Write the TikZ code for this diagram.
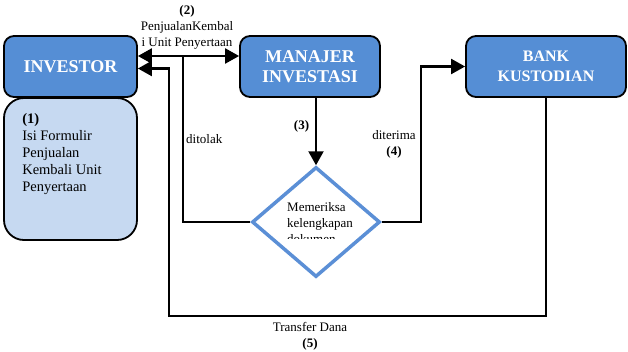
\documentclass[tikz,border=0pt]{standalone}
\usepackage{fontspec}
\setmainfont{Liberation Serif}
\usetikzlibrary{arrows.meta,shapes.geometric}
\definecolor{boxDark}{HTML}{558ED5}
\definecolor{boxLight}{HTML}{C6D9F1}
\definecolor{lineBlue}{HTML}{5B8FD6}
\tikzset{
    darkbox/.style={draw=black, line width=1.8pt, fill=boxDark, rounded corners=10pt, inner sep=0pt,
        minimum height=61pt, align=center, text=white, font=\fontsize{18}{20}\selectfont\bfseries},
    lightbox/.style={draw=black, line width=1.8pt, fill=boxLight, rounded corners=20pt, inner sep=0pt},
    checkdiamond/.style={diamond, draw=lineBlue, line width=3.5pt, fill=white, inner sep=0pt,
        minimum width=128pt, minimum height=110pt},
    arr/.style={line width=2.2pt, -{Triangle[length=14pt,width=15pt]}},
    conn/.style={line width=2.2pt},
    lbl/.style={font=\fontsize{13}{16}\selectfont, align=center, inner sep=0pt}
}

\begin{document}
\begin{tikzpicture}[x=1pt, y=-1pt]
    \useasboundingbox (0,0) rectangle (628,351);

    \node[darkbox, minimum width=133pt] (investor) at (70.5,66.5) {INVESTOR};
    \node[lightbox, minimum width=133pt, minimum height=142pt] (formulir) at (70.5,169) {};
    \node[anchor=north west, align=left, inner sep=0pt, font=\fontsize{14.5}{17}\selectfont]
        (formulirtext) at ([xshift=19pt,yshift=-16pt]formulir.north west)
        {\textbf{(1)}\\Isi Formulir\\Penjualan\\Kembali Unit\\Penyertaan};
    \node[darkbox, minimum width=140pt] (manajer) at (310,66.5) {MANAJER\\INVESTASI};
    \node[darkbox, minimum width=160pt, font=\fontsize{16}{20}\selectfont\bfseries] (bank) at (546,66.5) {BANK\\KUSTODIAN};
    \node[checkdiamond] (periksa) at (316,222) {};
    \begin{scope}
        \clip (240,190) rectangle (400,238);
        \node[anchor=north west, align=left, inner sep=0pt, font=\fontsize{13}{16}\selectfont]
            (periksatext) at (287,202) {Memeriksa\\kelengkapan\\dokumen};
    \end{scope}

    % (2) jual kembali
    \draw[conn, {Triangle[length=14pt,width=15pt]}-{Triangle[length=14pt,width=15pt]}]
        ([yshift=10.5pt]investor.east) -- ([yshift=10.5pt]manajer.west);
    \coordinate (tolak) at (183,56);
    \draw[conn] (periksa.west) -| (tolak);

    % (3) periksa
    \draw[arr] (manajer.south -| periksa.north) -- (periksa.north);

    % (4) diterima
    \draw[arr] (periksa.east) -| ([xshift=-44pt]bank.west) -- (bank.west);

    % (5) transfer dana
    \coordinate (transfer) at (169,316);
    \draw[arr] (bank.south) |- (transfer) |- ([yshift=-2pt]investor.east);

    \node[lbl] (lbl2) at (187,27) {\textbf{(2)}\\PenjualanKembal\\i Unit Penyertaan};
    \node[lbl, anchor=west] (lblTolak) at (186,139) {ditolak};
    \node[lbl, font=\fontsize{13}{16}\selectfont\bfseries] (lbl3) at (301.5,126) {(3)};
    \node[lbl] (lblTerima) at (394,144) {diterima\\\textbf{(4)}};
    \node[lbl] (lbl5) at (310,336) {Transfer Dana\\\textbf{(5)}};
\end{tikzpicture}
\end{document}
